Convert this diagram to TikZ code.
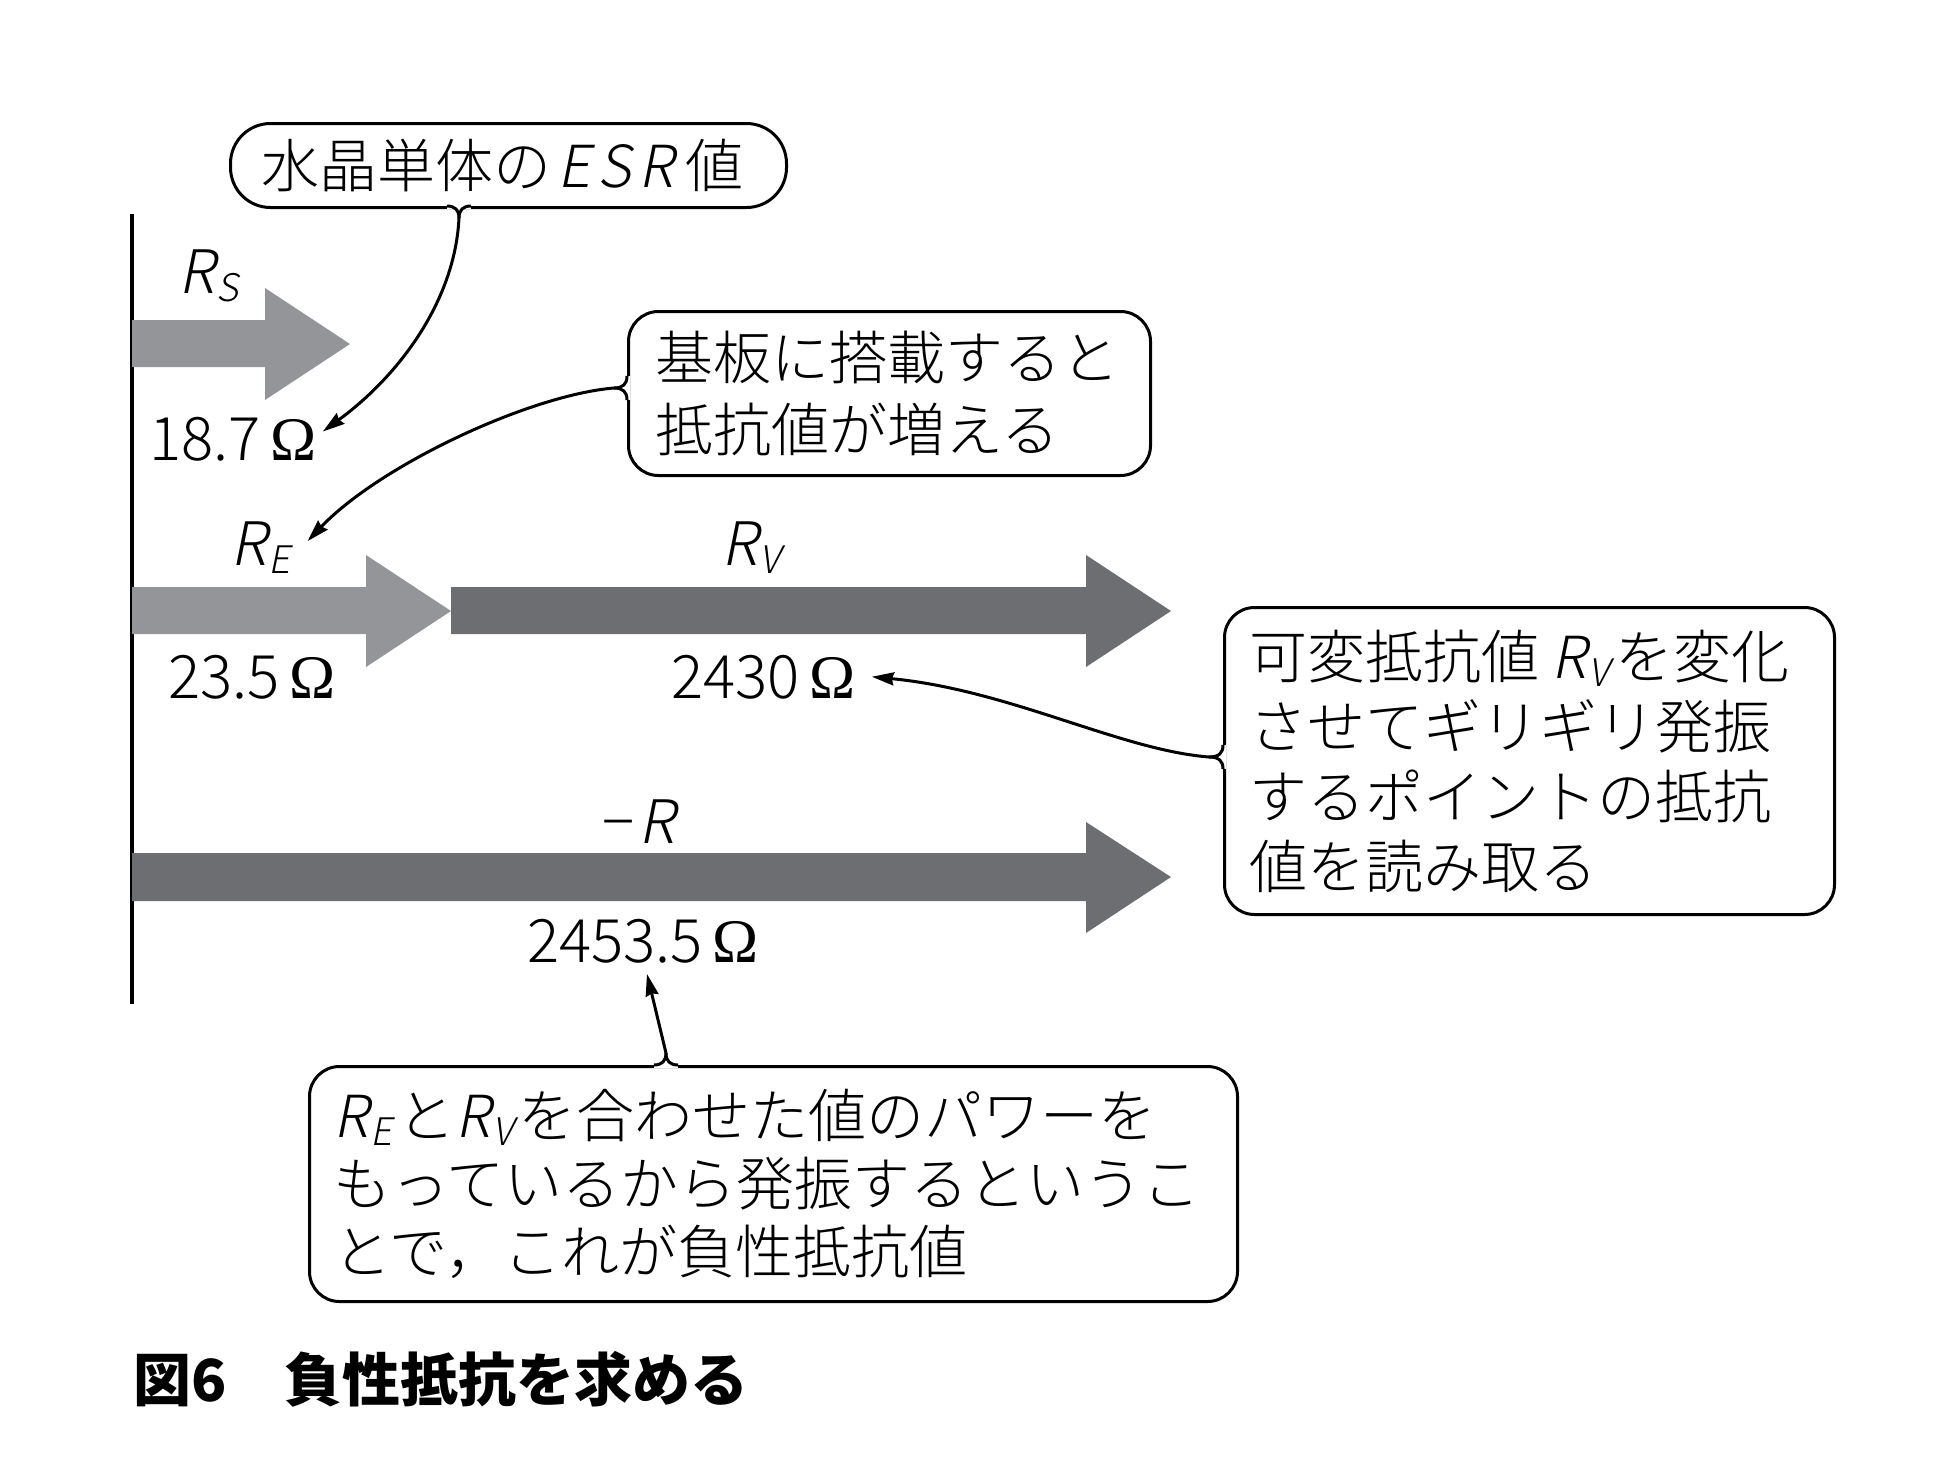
\documentclass[tikz,border=0pt]{standalone}
\usepackage{fontspec}
\setmainfont{Noto Sans CJK JP Light}
\newfontfamily\capfont{Noto Sans CJK JP}
\newfontfamily\rfont{Noto Sans CJK JP Light}[FakeSlant=0.2]
\newfontfamily\omfont{Liberation Serif}
\usetikzlibrary{arrows.meta,calc}
\definecolor{lightg}{RGB}{147,149,152}
\definecolor{darkg}{RGB}{109,110,113}
\newcommand\Rsb[1]{{\rfont R}\kern2pt{\rfont\fontsize{38}{38}\selectfont\raisebox{-8pt}{#1}}}
\newcommand\Om{{\omfont\fontsize{62}{62}\selectfont Ω}}
\begin{document}
\begin{tikzpicture}[x=1pt,y=-1pt,
  every node/.style={inner sep=0pt},
  lbl/.style={anchor=base west, font=\fontsize{60}{60}\selectfont},
  bubble/.style={draw, line width=3pt, rounded corners=30pt, anchor=north west},
  btext/.style={anchor=west, align=left},
  lead/.style={line width=3pt, -{Stealth[length=22pt,width=13pt,inset=2pt]}},
  cusp/.style={line width=3pt},
]
\useasboundingbox (0,0) rectangle (1949,1465);

% axis
\draw[line width=4pt] (132,214) -- (132,1004);

% arrows
\fill[lightg] (132,320) -- (265,320) -- (265,288) -- (350,344) -- (265,400) -- (265,367) -- (132,367) -- cycle;
\fill[lightg] (132,587) -- (366,587) -- (366,555) -- (451,611) -- (366,667) -- (366,634) -- (132,634) -- cycle;
\fill[darkg] (451,587) -- (1086,587) -- (1086,555) -- (1171,611) -- (1086,667) -- (1086,634) -- (451,634) -- (451,611) -- cycle;
\fill[darkg] (132,853) -- (1086,853) -- (1086,822) -- (1171,877) -- (1086,933) -- (1086,901) -- (132,901) -- cycle;

% labels
\node[lbl] (rs) at (178,293) {\Rsb{S}};
\node[lbl] (v1) at (149,460) {18.7\,\Om};
\node[lbl] (re) at (230,565) {\Rsb{E}};
\node[lbl] (rv) at (721,565) {\Rsb{V}};
\node[lbl] (v2) at (168,698) {23.5\,\Om};
\node[lbl] (v3) at (671,698) {2430\,\Om};
\node[lbl] (mr) at (602,843) {−\kern4pt{\rfont R}};
\node[lbl] (v4) at (527,962) {2453.5\,\Om};

% bubble 1
\node[bubble, rounded corners=40pt, minimum width=556, minimum height=84] (b1) at (229,122) {};
\node[btext, font=\fontsize{58}{58}\selectfont] (t1) at ($(b1.west)+(32,0)$) {水晶単体の\kern6pt{\rfont E\kern7pt S\kern7pt R}\kern12pt 値};
\fill[white] (447,203.5) rectangle (471,208.5);
\draw[cusp] (447,206) .. controls (455,206) and (459,210) .. (459,218);
\draw[cusp] (471,206) .. controls (463,206) and (459,210) .. (459,218);
\coordinate (k1) at (459,218);
\draw[lead] (k1) .. controls (455,300) and (400,375) .. ($(v1.north east)+(6,15)$);

% bubble 2
\node[bubble, minimum width=522, minimum height=164] (b2) at (627,310) {};
\node[btext, font=\fontsize{58}{72}\selectfont] (t2) at ($(b2.west)+(28,0)$) {基板に搭載すると\\抵抗値が増える};
\fill[white] (624.5,376) rectangle (629.5,400);
\draw[cusp] (627,376) .. controls (627,384) and (623,388) .. (614,388);
\draw[cusp] (627,400) .. controls (627,392) and (623,388) .. (614,388);
\coordinate (k2) at (614,388);
\draw[lead] (k2) .. controls (530,395) and (380,465) .. ($(re.north east)+(17,20)$);

% bubble 3
\node[bubble, minimum width=610, minimum height=307] (b3) at (1223,606) {};
\node[btext, font=\fontsize{58}{70}\selectfont] (t3) at ($(b3.west)+(26,0)$) {可変抵抗値\kern12pt\Rsb{V}\kern6pt を変化\\させてギリギリ発振\\するポイントの抵抗\\値を読み取る};
\fill[white] (1220.5,745) rectangle (1225.5,769);
\draw[cusp] (1223,745) .. controls (1223,753) and (1219,757) .. (1209,757);
\draw[cusp] (1223,769) .. controls (1223,761) and (1219,757) .. (1209,757);
\coordinate (k3) at (1209,757);
\draw[lead] (k3) .. controls (1120,750) and (1010,690) .. ($(v3.east)+(16,0)$);

% bubble 4
\node[bubble, minimum width=928, minimum height=235] (b4) at (308,1065) {};
\node[btext, font=\fontsize{58}{68}\selectfont] (t4) at ($(b4.west)+(25,0)$) {\Rsb{E}\kern5pt と\Rsb{V}\kern5pt を合わせた値のパワーを\\もっているから発振するというこ\\とで，これが負性抵抗値};
\fill[white] (654,1062.5) rectangle (678,1067.5);
\draw[cusp] (654,1065) .. controls (662,1065) and (666,1061) .. (666,1053);
\draw[cusp] (678,1065) .. controls (670,1065) and (666,1061) .. (666,1053);
\coordinate (k4) at (666,1053);
\draw[lead] (k4) -- ($(v4.south)+(4,11)$);

% caption
\node[anchor=base west, font=\capfont\bfseries\fontsize{58}{58}\selectfont] (cap) at (133,1401) {図6　負性抵抗を求める};
\end{tikzpicture}
\end{document}
